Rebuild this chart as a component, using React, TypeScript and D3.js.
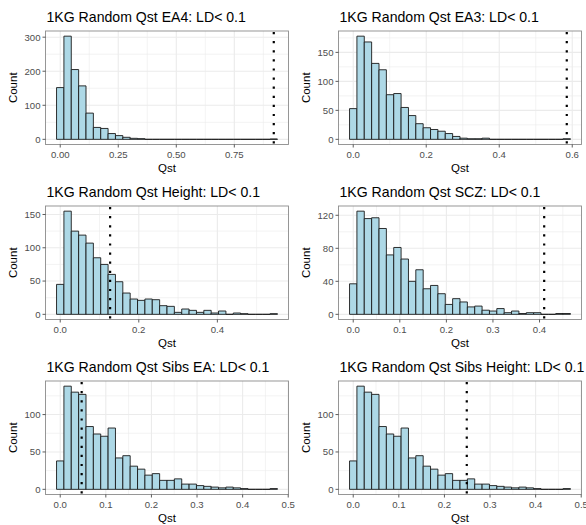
import React from "react";
import * as d3 from "d3";

// ---- data ----
const titles = [
  "1KG Random Qst EA4: LD< 0.1",
  "1KG Random Qst EA3: LD< 0.1",
  "1KG Random Qst Height: LD< 0.1",
  "1KG Random Qst SCZ: LD< 0.1",
  "1KG Random Qst Sibs EA: LD< 0.1",
  "1KG Random Qst Sibs Height: LD< 0.1",
];

// histogram counts (30 bins each, first bin centred on 0)
const ea4Counts = [152, 303, 205, 157, 77, 35, 32, 17, 11, 6, 3, 2, 0, 0, 0, 0, 0, 0, 0, 0, 0, 0, 0, 0, 0, 0, 0, 0, 0, 1];
const ea3Counts = [53, 178, 168, 131, 120, 77, 79, 55, 41, 27, 20, 17, 14, 10, 5, 2, 1, 1, 2, 0, 0, 0, 0, 0, 0, 0, 0, 0, 0, 1];
const heightCounts = [45, 155, 125, 119, 107, 85, 75, 60, 49, 32, 23, 21, 23, 22, 13, 12, 3, 8, 6, 3, 6, 2, 5, 0, 2, 1, 0, 0, 0, 1];
const sczCounts = [37, 125, 116, 117, 104, 72, 81, 67, 40, 54, 31, 35, 25, 12, 19, 15, 9, 10, 5, 4, 7, 2, 4, 1, 2, 2, 0, 0, 1, 1];
const sibsEaCounts = [38, 138, 130, 127, 84, 74, 71, 82, 42, 45, 31, 27, 19, 21, 12, 12, 14, 7, 7, 5, 4, 3, 2, 3, 2, 1, 0, 0, 0, 1];
const sibsHeightCounts = [38, 138, 130, 127, 84, 74, 71, 82, 42, 45, 31, 27, 19, 21, 12, 12, 14, 7, 7, 5, 4, 3, 2, 3, 2, 1, 0, 0, 0, 1];

// centre of the last bin (max Qst value)
const maxQst = [0.92, 0.585, 0.5436, 0.4585, 0.4683, 0.4683];
// observed Qst (dotted line)
const observedQst = [0.92, 0.585, 0.127, 0.41, 0.047, 0.249];

const xTicksList = [
  [0, 0.25, 0.5, 0.75],
  [0, 0.2, 0.4, 0.6],
  [0, 0.2, 0.4],
  [0, 0.1, 0.2, 0.3, 0.4],
  [0, 0.1, 0.2, 0.3, 0.4, 0.5],
  [0, 0.1, 0.2, 0.3, 0.4, 0.5],
];
const xTickDigits = [2, 1, 1, 1, 1, 1];
const yTicksList = [
  [0, 100, 200, 300],
  [0, 50, 100, 150],
  [0, 50, 100, 150],
  [0, 40, 80, 120],
  [0, 50, 100],
  [0, 50, 100],
];

const countsList = [ea4Counts, ea3Counts, heightCounts, sczCounts, sibsEaCounts, sibsHeightCounts];

const W = 586;
const H = 525;
const CELL_W = 293;
const CELL_H = 175;
const FONT = "'Liberation Sans', Arial, Helvetica, sans-serif";

function minorBreaks(major: number[], lo: number, hi: number) {
  const step = major[1] - major[0];
  const out: number[] = [];
  for (let i = -1; i < major.length; i++) {
    const v = major[0] + (i + 0.5) * step;
    if (v >= lo && v <= hi) out.push(v);
  }
  return out;
}

function Panel({ i }: { i: number }) {
  const col = i % 2;
  const row = Math.floor(i / 2);
  const cx = col * CELL_W;
  const cy = row * CELL_H;
  const left = cx + 45.5;
  const right = cx + 288.5;
  const top = cy + 31;
  const bottom = cy + 144.5;

  const counts = countsList[i];
  const n = counts.length;
  const w = maxQst[i] / (n - 1);
  const x0 = -w / 2;
  const x1 = (n - 0.5) * w;
  const rx = x1 - x0;
  const xs = d3.scaleLinear().domain([x0 - 0.05 * rx, x1 + 0.05 * rx]).range([left, right]);
  const ymax = d3.max(counts) as number;
  const ys = d3.scaleLinear().domain([-0.05 * ymax, 1.05 * ymax]).range([bottom, top]);

  const xt = xTicksList[i];
  const yt = yTicksList[i];
  const [dx0, dx1] = xs.domain();
  const [dy0, dy1] = ys.domain();
  const xMinor = minorBreaks(xt, dx0, dx1);
  const yMinor = minorBreaks(yt, dy0, dy1);
  const fmt = d3.format(`.${xTickDigits[i]}f`);

  const bars = counts.map((c, k) => {
    const a = xs(k * w - w / 2);
    const b = xs(k * w + w / 2);
    const y0 = ys(0);
    const y1 = ys(c);
    const p = d3.path();
    p.moveTo(a, y0);
    p.lineTo(a, y1);
    p.lineTo(b, y1);
    p.lineTo(b, y0);
    p.closePath();
    return <path key={k} d={p.toString()} fill="#ADD8E6" stroke="#1a1a1a" strokeWidth={0.9} />;
  });

  return (
    <g>
      <text x={left + 1} y={cy + 22} fontSize={14.1} fontFamily={FONT} fill="#000">
        {titles[i]}
      </text>
      <rect x={left} y={top} width={right - left} height={bottom - top} fill="#fff" />
      {xMinor.map((v) => (
        <line key={"xm" + v} x1={xs(v)} x2={xs(v)} y1={top} y2={bottom} stroke="#EBEBEB" strokeWidth={0.6} />
      ))}
      {yMinor.map((v) => (
        <line key={"ym" + v} x1={left} x2={right} y1={ys(v)} y2={ys(v)} stroke="#EBEBEB" strokeWidth={0.6} />
      ))}
      {xt.map((v) => (
        <line key={"xg" + v} x1={xs(v)} x2={xs(v)} y1={top} y2={bottom} stroke="#EBEBEB" strokeWidth={1.1} />
      ))}
      {yt.map((v) => (
        <line key={"yg" + v} x1={left} x2={right} y1={ys(v)} y2={ys(v)} stroke="#EBEBEB" strokeWidth={1.1} />
      ))}
      {bars}
      <line
        x1={xs(observedQst[i])}
        x2={xs(observedQst[i])}
        y1={top}
        y2={bottom}
        stroke="#000"
        strokeWidth={2.2}
        strokeDasharray="2.2 6.9"
        strokeDashoffset={-1}
      />
      <rect x={left} y={top} width={right - left} height={bottom - top} fill="none" stroke="#8c8c8c" strokeWidth={0.9} />
      {xt.map((v) => (
        <g key={"xt" + v}>
          <line x1={xs(v)} x2={xs(v)} y1={bottom} y2={bottom + 3} stroke="#333" strokeWidth={0.8} />
          <text x={xs(v)} y={bottom + 13} fontSize={9.6} fontFamily={FONT} fill="#4D4D4D" textAnchor="middle">
            {fmt(v)}
          </text>
        </g>
      ))}
      {yt.map((v) => (
        <g key={"yt" + v}>
          <line x1={left - 3} x2={left} y1={ys(v)} y2={ys(v)} stroke="#333" strokeWidth={0.8} />
          <text x={left - 5} y={ys(v) + 3.4} fontSize={9.6} fontFamily={FONT} fill="#4D4D4D" textAnchor="end">
            {v}
          </text>
        </g>
      ))}
      <text x={(left + right) / 2} y={cy + 172} fontSize={11.5} fontFamily={FONT} fill="#000" textAnchor="middle">
        Qst
      </text>
      <text
        transform={`translate(${cx + 17},${(top + bottom) / 2}) rotate(-90)`}
        fontSize={11.5}
        fontFamily={FONT}
        fill="#000"
        textAnchor="middle"
      >
        Count
      </text>
    </g>
  );
}

export default function App() {
  return (
    <svg
      width={W}
      height={H}
      viewBox={`0 0 ${W} ${H}`}
      style={{ position: "absolute", left: 0, top: 0, background: "#fff" }}
    >
      <rect width={W} height={H} fill="#fff" />
      {titles.map((_, i) => (
        <Panel key={i} i={i} />
      ))}
    </svg>
  );
}
